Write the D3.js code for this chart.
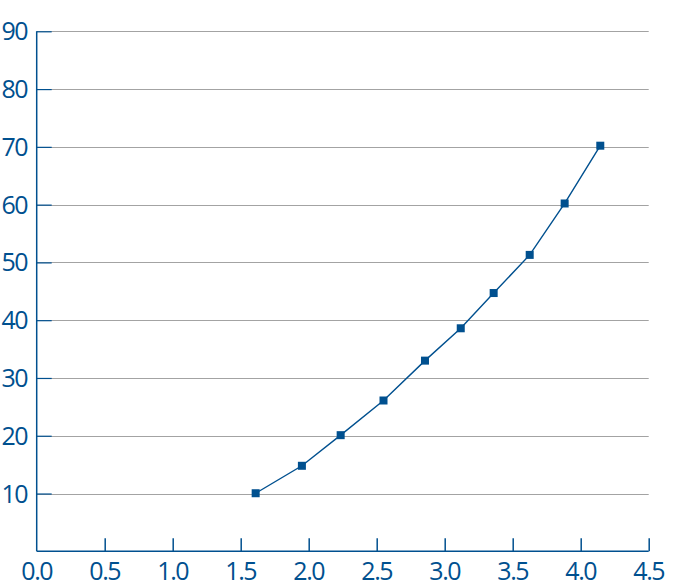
<!DOCTYPE html>
<html><head><meta charset="utf-8">
<script src="https://cdn.jsdelivr.net/npm/d3@7"></script>
<style>body{margin:0;background:#fff}svg{display:block}</style>
</head><body>
<script>
const xValues = [1.61, 1.95, 2.235, 2.55, 2.855, 3.118, 3.36, 3.625, 3.882, 4.144];
const yValues = [10.05, 14.8, 20.1, 26.1, 33.0, 38.6, 44.7, 51.3, 60.2, 70.2];
const xTicks = [0, 0.5, 1, 1.5, 2, 2.5, 3, 3.5, 4, 4.5];
const yTicks = [10, 20, 30, 40, 50, 60, 70, 80, 90];

const W = 679, H = 582;
const blue = "#00508f", grid = "#a3a3a3";
const svg = d3.select("body").append("svg").attr("width", W).attr("height", H);
const x = d3.scaleLinear().domain([0, 4.5]).range([36.7, 648.7]);
const y = d3.scaleLinear().domain([0, 90]).range([551.3, 31.3]);
const font = "'Open Sans', 'Noto Sans', sans-serif";

// gridlines
svg.append("g").selectAll("line").data(yTicks).join("line")
  .attr("x1", x(0)).attr("x2", x(4.5))
  .attr("y1", d => Math.round(y(d)) + 0.5).attr("y2", d => Math.round(y(d)) + 0.5)
  .attr("stroke", grid).attr("stroke-width", 1.2);

// y axis (ticks inside)
const yAxis = d3.axisRight(y).tickValues(yTicks).tickSize(15).tickFormat("");
const gy = svg.append("g").attr("transform", `translate(${x(0)},0)`).call(yAxis);
gy.select(".domain").remove();
gy.selectAll("line").attr("stroke", blue).attr("stroke-width", 1.2);
svg.append("line").attr("x1", x(0)).attr("x2", x(0)).attr("y1", y(90)).attr("y2", y(0))
  .attr("stroke", blue).attr("stroke-width", 1.5);

// x axis (ticks inside)
const xAxis = d3.axisTop(x).tickValues(xTicks.filter(d => d > 0)).tickSize(13).tickFormat("");
const gx = svg.append("g").attr("transform", `translate(0,${y(0)})`).call(xAxis);
gx.select(".domain").remove();
gx.selectAll("line").attr("stroke", blue).attr("stroke-width", 1.5);
svg.append("line").attr("x1", x(0)).attr("x2", x(4.5)).attr("y1", y(0)).attr("y2", y(0))
  .attr("stroke", blue).attr("stroke-width", 1.5);

// labels
svg.append("g").selectAll("text").data(yTicks).join("text")
  .attr("x", 27).attr("y", d => y(d) + 9)
  .attr("text-anchor", "end").attr("fill", blue)
  .style("font-family", font).style("font-size", "25px").style("letter-spacing", "-1.5px")
  .text(d => d);
svg.append("g").selectAll("text").data(xTicks).join("text")
  .attr("x", d => x(d)).attr("y", 580)
  .attr("text-anchor", "middle").attr("fill", blue)
  .style("font-family", font).style("font-size", "25px").style("letter-spacing", "-1.5px")
  .text(d => d.toFixed(1));

// line + markers
const pts = xValues.map((v, i) => [v, yValues[i]]);
svg.append("path").datum(pts)
  .attr("d", d3.line().x(d => x(d[0])).y(d => y(d[1])))
  .attr("fill", "none").attr("stroke", blue).attr("stroke-width", 1.4);
svg.append("g").selectAll("rect").data(pts).join("rect")
  .attr("x", d => x(d[0]) - 4).attr("y", d => y(d[1]) - 4)
  .attr("width", 8).attr("height", 8).attr("fill", blue);
</script>
</body></html>
